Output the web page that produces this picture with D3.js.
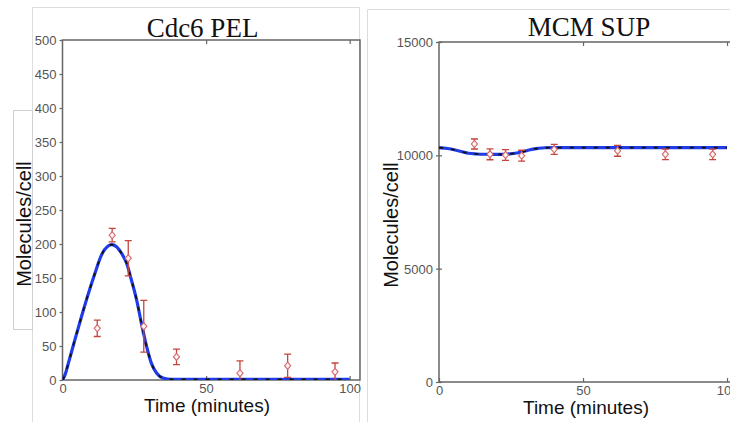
<!DOCTYPE html>
<html>
<head>
<meta charset="utf-8">
<script src="https://cdn.jsdelivr.net/npm/d3@7"></script>
<style>
  html, body { margin: 0; padding: 0; background: #fff; }
  svg { display: block; }
</style>
</head>
<body>
<svg id="chart" width="730" height="422"></svg>
<script>
// ---------- data ----------
const xTicks = [0, 50, 100];

// Cdc6 PEL panel
const cdc6Title = "Cdc6 PEL";
const cdc6YTicks = [0, 50, 100, 150, 200, 250, 300, 350, 400, 450, 500];
const cdc6ModelTime  = [0, 1, 2, 4.3, 6.6, 9, 11.3, 13.6, 15.9, 17.1, 18.8, 20.6, 22.3, 24, 25.8, 27.5, 29.3, 31, 32.8, 35, 38, 45, 60, 80, 100];
const cdc6ModelValue = [0, 9, 24, 59, 93, 127, 157, 184, 197, 199, 196, 186, 172, 147, 118, 83, 49, 24, 10, 3, 1, 1, 1, 1, 1];
const cdc6DataTime  = [12.1, 17.3, 22.9, 28.3, 39.7, 61.8, 78.4, 94.9];
const cdc6DataValue = [76, 213, 179, 79, 34, 10, 21, 12];
const cdc6DataErr   = [12, 10, 26, 38, 11.5, 18, 17, 13];

// MCM SUP panel
const mcmTitle = "MCM SUP";
const mcmYTicks = [0, 5000, 10000, 15000];
const mcmModelTime  = [0, 3, 5.6, 8, 10.2, 13, 17.1, 20, 22.9, 25, 27.5, 30, 32.2, 34.5, 36.8, 40, 60, 80, 100];
const mcmModelValue = [10337, 10300, 10235, 10160, 10090, 10060, 10045, 10040, 10045, 10070, 10115, 10190, 10265, 10310, 10335, 10337, 10337, 10337, 10337];
const mcmDataTime  = [12.3, 17.7, 23.1, 28.7, 40.0, 62.0, 78.6, 95.0];
const mcmDataValue = [10500, 10045, 10015, 9985, 10265, 10200, 10045, 10045];
const mcmDataErr   = [220, 240, 240, 240, 220, 240, 230, 230];

const yLabel = "Molecules/cell";
const xLabel = "Time (minutes)";

// ---------- drawing ----------
const svg = d3.select("#chart");
const sans = "'Liberation Sans', Arial, sans-serif";
const serif = "'Liberation Serif', 'Times New Roman', serif";
const axisColor = "#666";
const tickTextColor = "#555";
const errColor = "#c4453c";
const blue = "#1f3ce8";

// panel outline decorations (screenshot frames)
const deco = svg.append("g").attr("fill", "none").attr("stroke", "#dcdcdc").attr("stroke-width", 1);
deco.append("path").attr("d", "M32.5,422 V7.5 H359.5 V422");
deco.append("path").attr("d", "M367.5,422 V9.5 H730");
// white box behind the left y label
svg.append("rect")
  .attr("x", 13.5).attr("y", 110.5).attr("width", 19).attr("height", 219)
  .attr("fill", "#fff").attr("stroke", "#d0d0d0").attr("stroke-width", 1);

function drawPanel(cfg) {
  const x = d3.scaleLinear().domain([0, 103.6]).range(cfg.xRange);
  const y = d3.scaleLinear().domain(cfg.yDomain).range(cfg.yRange);
  const g = svg.append("g");
  const [x0, x1] = cfg.xRange;
  const [yb, yt] = cfg.yRange;

  const clipId = "clip-" + cfg.id;
  svg.append("clipPath").attr("id", clipId)
    .append("rect").attr("x", x0).attr("y", yt).attr("width", x1 - x0).attr("height", yb - yt);

  // frame
  g.append("path")
    .attr("d", `M${x0},${yt} V${yb} H${x1} V${yt} Z`)
    .attr("fill", "none").attr("stroke", axisColor).attr("stroke-width", 1.5);

  // y axis ticks + labels
  const yAxis = d3.axisLeft(y).tickValues(cfg.yTicks).tickSize(cfg.yTickOut).tickPadding(3).tickFormat(d3.format("d"));
  const ya = g.append("g").attr("transform", `translate(${x0},0)`).call(yAxis);
  ya.select(".domain").remove();
  ya.selectAll(".tick line").attr("stroke", axisColor).attr("stroke-width", 1.2)
    .attr("x2", -cfg.yTickOut).attr("x1", cfg.yTickIn);
  ya.selectAll(".tick text").attr("fill", tickTextColor).attr("font-family", sans).attr("font-size", 13)
    .attr("x", -6).attr("dy", "0.35em");

  // x axis (bottom) ticks inward + labels
  const xAxis = d3.axisBottom(x).tickValues(xTicks).tickSize(0).tickPadding(0);
  const xa = g.append("g").attr("transform", `translate(0,${yb})`).call(xAxis);
  xa.select(".domain").remove();
  xa.selectAll(".tick line").attr("stroke", axisColor).attr("stroke-width", 1.2).attr("y1", 0).attr("y2", -4);
  xa.selectAll(".tick text").attr("fill", tickTextColor).attr("font-family", sans).attr("font-size", 13)
    .attr("y", cfg.xTickBaseline - yb).attr("dy", 0);

  // top ticks inward
  const xt = d3.axisTop(x).tickValues(xTicks.filter(d => d > 0)).tickSize(0).tickFormat("");
  const xta = g.append("g").attr("transform", `translate(0,${yt})`).call(xt);
  xta.select(".domain").remove();
  xta.selectAll(".tick line").attr("stroke", axisColor).attr("stroke-width", 1.2).attr("y1", 0).attr("y2", 4);

  const plot = g.append("g").attr("clip-path", `url(#${clipId})`);

  // model curve: blue solid, black dashed overlay
  const pts = cfg.modelTime.map((t, i) => [t, cfg.modelValue[i]]);
  const line = d3.line().x(d => x(d[0])).y(d => y(d[1])).curve(d3.curveMonotoneX);
  plot.append("path").attr("d", line(pts)).attr("fill", "none")
    .attr("stroke", blue).attr("stroke-width", 3.2).attr("stroke-linejoin", "round");
  plot.append("path").attr("d", line(pts)).attr("fill", "none")
    .attr("stroke", "#111").attr("stroke-width", 1.8).attr("stroke-dasharray", "4,8");

  // error bars
  const data = cfg.dataTime.map((t, i) => ({ t, v: cfg.dataValue[i], e: cfg.dataErr[i] }));
  const eb = plot.append("g").attr("stroke", errColor).attr("stroke-width", 1.3).attr("fill", "none");
  data.forEach(d => {
    const cx = x(d.t), top = y(d.v + d.e), bot = y(d.v - d.e);
    eb.append("path").attr("d", `M${cx},${top} V${bot} M${cx - 3.5},${top} H${cx + 3.5} M${cx - 3.5},${bot} H${cx + 3.5}`);
  });
  // diamond markers
  plot.append("g").selectAll("path.m").data(data).join("path")
    .attr("d", d => { const cx = x(d.t), cy = y(d.v), r = 3.6; return `M${cx},${cy - r} L${cx + r * 0.85},${cy} L${cx},${cy + r} L${cx - r * 0.85},${cy} Z`; })
    .attr("fill", "#fff3f3").attr("stroke", "#d4686a").attr("stroke-width", 1.1);

  // titles & labels
  svg.append("text").attr("x", cfg.titleX).attr("y", cfg.titleY).attr("text-anchor", "middle")
    .attr("font-family", serif).attr("font-size", 27).attr("fill", "#111").text(cfg.title);
  svg.append("text").attr("x", cfg.xLabelX).attr("y", cfg.xLabelY).attr("text-anchor", "middle")
    .attr("font-family", sans).attr("font-size", 19).attr("fill", "#111").text(xLabel);
  svg.append("text").attr("transform", `translate(${cfg.yLabelX},${cfg.yLabelY}) rotate(-90)`)
    .attr("text-anchor", "middle").attr("font-family", sans).attr("font-size", 20).attr("fill", "#111").text(yLabel);
}

drawPanel({
  id: "cdc6", title: cdc6Title,
  xRange: [62.5, 360], yDomain: [0, 500], yRange: [380, 40],
  yTicks: cdc6YTicks, yTickOut: 3, yTickIn: 0, xTickBaseline: 393,
  modelTime: cdc6ModelTime, modelValue: cdc6ModelValue,
  dataTime: cdc6DataTime, dataValue: cdc6DataValue, dataErr: cdc6DataErr,
  titleX: 202.5, titleY: 37, xLabelX: 207, xLabelY: 412, yLabelX: 31, yLabelY: 224
});

drawPanel({
  id: "mcm", title: mcmTitle,
  xRange: [439, 737.4], yDomain: [0, 15000], yRange: [382, 42],
  yTicks: mcmYTicks, yTickOut: 3, yTickIn: 3, xTickBaseline: 395,
  modelTime: mcmModelTime, modelValue: mcmModelValue,
  dataTime: mcmDataTime, dataValue: mcmDataValue, dataErr: mcmDataErr,
  titleX: 589, titleY: 36, xLabelX: 586, xLabelY: 414, yLabelX: 398, yLabelY: 225
});
</script>
</body>
</html>
